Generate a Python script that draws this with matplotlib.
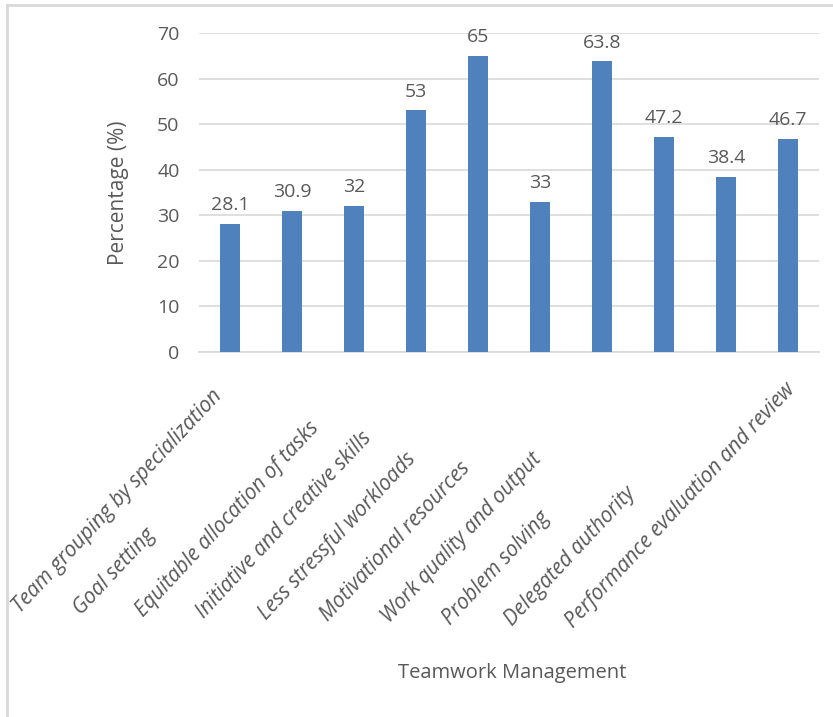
import numpy as np
import matplotlib.pyplot as plt
from matplotlib.lines import Line2D

categories = [
    "Team grouping by specialization",
    "Goal setting",
    "Equitable allocation of tasks",
    "Initiative and creative skills",
    "Less stressful workloads",
    "Motivational resources",
    "Work quality and output",
    "Problem solving",
    "Delegated authority",
    "Performance evaluation and review",
]
values = [28.1, 30.9, 32, 53, 65, 33, 63.8, 47.2, 38.4, 46.7]
value_labels = ["28.1", "30.9", "32", "53", "65", "33", "63.8", "47.2", "38.4", "46.7"]
yticks = [0, 10, 20, 30, 40, 50, 60, 70]

plt.rcParams['font.family'] = ['Open Sans', 'DejaVu Sans']
text_color = "#595959"
grid_color = "#d9d9d9"
bar_color = "#4f81bd"
fs = 14

W, H = 833, 717
fig = plt.figure(figsize=(W / 100, H / 100), dpi=100)
ax = fig.add_axes([199 / W, 1 - 352 / H, 620 / W, (352 - 33) / H])

x = np.arange(len(categories))
ax.bar(x, values, width=0.32, color=bar_color, zorder=3)

for xi, v, lab in zip(x, values, value_labels):
    ax.annotate(lab, (xi, v), xytext=(0, 7), textcoords="offset points",
                ha="center", va="bottom", fontsize=fs, color=text_color)

ax.set_xlim(-0.5, len(categories) - 0.5)
ax.set_ylim(0, 70)
ax.set_yticks(yticks)
ax.set_xticks([])
ax.yaxis.grid(True, color=grid_color, linewidth=1.2, zorder=0)
ax.tick_params(axis="y", length=0, pad=14, labelsize=fs, labelcolor=text_color)
for side in ["top", "right", "left"]:
    ax.spines[side].set_visible(False)
ax.spines["bottom"].set_color(grid_color)
ax.spines["bottom"].set_linewidth(1.2)

ax.set_ylabel("Percentage (%)", fontsize=15, color=text_color, labelpad=20)

# category labels: rotated, started below the plot, shifted left of their bars
for i, name in enumerate(categories):
    px = 20 + 61.5 * i
    py = 614 + 1.6 * i
    fig.text(px / W, 1 - py / H, name, rotation=47, rotation_mode="anchor",
             ha="left", va="baseline", fontsize=15, style="italic",
             color=text_color)

fig.text(512 / W, 1 - 673 / H, "Teamwork Management", ha="center", va="center",
         fontsize=14.5, color=text_color)

# partial chart frame (top and left edges)
fig.add_artist(Line2D([7 / W, 1], [1 - 5 / H, 1 - 5 / H], color=grid_color,
                      linewidth=2, transform=fig.transFigure))
fig.add_artist(Line2D([7 / W, 7 / W], [0, 1 - 5 / H], color=grid_color,
                      linewidth=2, transform=fig.transFigure))

fig.savefig("out.png", dpi=100, facecolor="white")
